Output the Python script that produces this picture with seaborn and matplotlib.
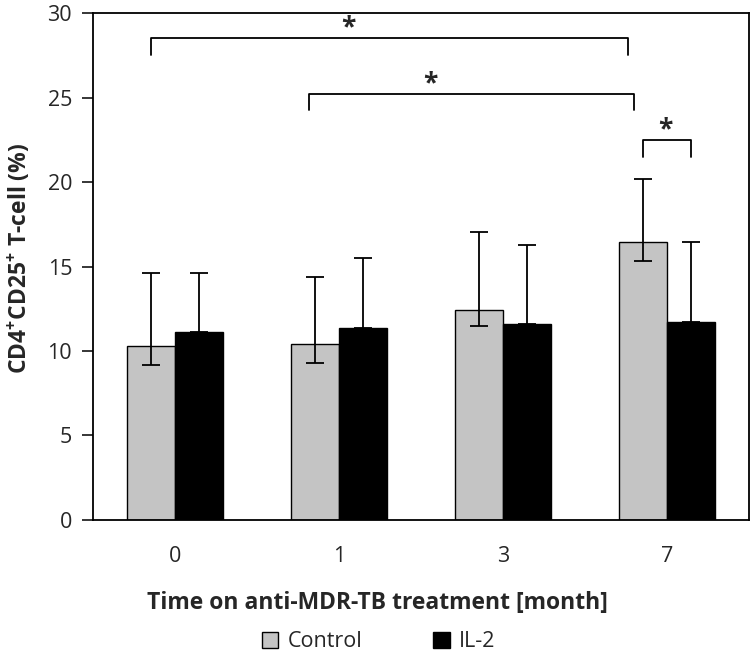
import seaborn as sns
import matplotlib.pyplot as plt
import pandas as pd
import numpy as np

months = ['0', '1', '3', '7']
control = [10.3, 10.4, 12.45, 16.45]
control_hi = [14.6, 14.4, 17.05, 20.2]
control_lo = [9.2, 9.3, 11.45, 15.35]
il2 = [11.1, 11.35, 11.6, 11.7]
il2_hi = [14.6, 15.5, 16.25, 16.45]

sns.set_style('white')
plt.rcParams['font.family'] = ['Open Sans', 'DejaVu Sans']
plt.rcParams['mathtext.fontset'] = 'custom'
plt.rcParams['mathtext.bf'] = 'Open Sans:bold'
plt.rcParams['mathtext.default'] = 'bf'

df = pd.DataFrame({
    'month': months * 2,
    'value': control + il2,
    'group': ['Control'] * 4 + ['IL-2'] * 4,
})

fig = plt.figure(figsize=(7.5, 6.52), dpi=100)
ax = fig.add_axes([0.124, 0.2025, 0.8747, 0.7775])
sns.barplot(data=df, x='month', y='value', hue='group', order=months,
            palette={'Control': '#c4c4c4', 'IL-2': '#000000'},
            width=0.58, errorbar=None, edgecolor='black', linewidth=1, ax=ax)

# asymmetric error bars on top of the bars
xc = [p.get_x() + p.get_width() / 2 for p in ax.containers[0]]
xi = [p.get_x() + p.get_width() / 2 for p in ax.containers[1]]
ax.errorbar(xc, control,
            yerr=[np.subtract(control, control_lo), np.subtract(control_hi, control)],
            fmt='none', ecolor='black', elinewidth=1.3, capsize=6.5, capthick=1.3)
ax.errorbar(xi, il2,
            yerr=[np.zeros(4), np.subtract(il2_hi, il2)],
            fmt='none', ecolor='black', elinewidth=1.3, capsize=6.5, capthick=1.3)

# significance brackets
def bracket(x0, x1, y, drop, sx):
    ax.plot([x0, x0, x1, x1], [y - drop, y, y, y - drop], color='black', lw=1.3)
    ax.text(sx, y + 0.6, '*', ha='center', va='center', fontsize=19, fontweight='bold')

bracket(xc[0], 2.76, 28.5, 1.0, 1.06)
bracket(0.82, 2.80, 25.2, 0.95, 1.56)
bracket(xc[3], xi[3], 22.5, 1.0, 2.99)

ax.set_ylim(0, 30)
ax.set_xlim(-0.5, 3.5)
ax.set_yticks([0, 5, 10, 15, 20, 25, 30])
for s in ax.spines.values():
    s.set_color('black')
    s.set_linewidth(1.3)
ax.tick_params(axis='y', left=True, length=8, width=1.3, labelsize=15.5, pad=7)
ax.tick_params(axis='x', bottom=False, labelsize=15.5, pad=15)
ax.set_xlabel('Time on anti-MDR-TB treatment [month]', fontsize=16.5,
              fontweight='bold')
ax.xaxis.set_label_coords(0.434, -0.14)
ax.set_ylabel(r'CD4$^{+}$CD25$^{+}$ T-cell (%)', fontsize=16.5,
              fontweight='bold')
ax.yaxis.set_label_coords(-0.092, 0.515)

handles, labels = ax.get_legend_handles_labels()
ax.get_legend().remove()
fig.legend(handles, labels, ncol=2, loc='lower center', bbox_to_anchor=(0.505, -0.03),
           frameon=False, fontsize=15.5, handlelength=0.75, handleheight=0.75,
           handletextpad=0.45, columnspacing=3.3)

plt.savefig('out.png', dpi=100)
